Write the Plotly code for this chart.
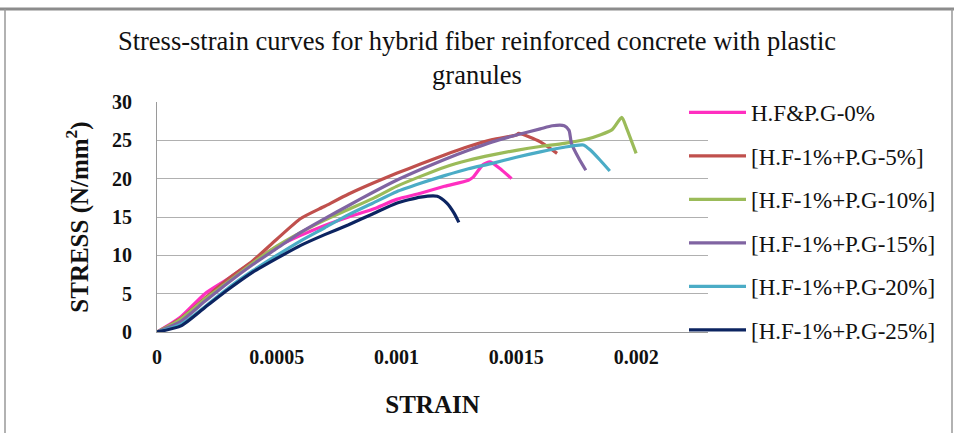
import plotly.graph_objects as go

# ---- data (strain, stress in N/mm^2) ----
names = ["H.F&P.G-0%", "[H.F-1%+P.G-5%]", "[H.F-1%+P.G-10%]",
         "[H.F-1%+P.G-15%]", "[H.F-1%+P.G-20%]", "[H.F-1%+P.G-25%]"]
colors = ["#FF2FC0", "#C0504D", "#9BBB59", "#8064A2", "#4BACC6", "#0C2461"]

strain_pg0 = [0, 0.0001, 0.0002, 0.0003, 0.0004, 0.0005, 0.0006, 0.0007, 0.0008, 0.0009,
              0.001, 0.0011, 0.0012, 0.0013, 0.00132, 0.00136, 0.00139, 0.00144, 0.00148]
stress_pg0 = [0, 2.0, 5.0, 7.0, 9.2, 11.1, 12.6, 13.9, 15.0, 16.0,
              17.3, 18.1, 19.0, 19.8, 20.2, 21.8, 22.2, 21.1, 20.0]

strain_pg5 = [0, 0.0001, 0.0002, 0.0003, 0.0004, 0.0005, 0.0006, 0.0007, 0.0008, 0.0009,
              0.001, 0.0011, 0.0012, 0.0013, 0.0014, 0.0015, 0.00151, 0.0016, 0.00167]
stress_pg5 = [0, 1.8, 4.4, 7.0, 9.3, 12.1, 14.8, 16.4, 18.0, 19.4,
              20.7, 21.9, 23.1, 24.2, 25.1, 25.7, 25.9, 24.8, 23.3]

strain_pg10 = [0, 0.0001, 0.0002, 0.0003, 0.0004, 0.0005, 0.0006, 0.0007, 0.0008, 0.0009,
               0.001, 0.0011, 0.0012, 0.0013, 0.0014, 0.0015, 0.0016, 0.0017, 0.0018,
               0.0019, 0.00194, 0.00196, 0.002]
stress_pg10 = [0, 1.7, 4.3, 6.6, 9.0, 11.2, 13.0, 14.6, 16.0, 17.4,
               19.0, 20.3, 21.5, 22.4, 23.1, 23.7, 24.2, 24.6, 25.2,
               26.4, 28.0, 26.6, 23.3]

strain_pg15 = [0, 0.0001, 0.0002, 0.0003, 0.0004, 0.0005, 0.0006, 0.0007, 0.0008, 0.0009,
               0.001, 0.0011, 0.0012, 0.0013, 0.0014, 0.0015, 0.0016, 0.00165, 0.0017,
               0.00172, 0.00173, 0.00176, 0.00179]
stress_pg15 = [0, 1.4, 4.0, 6.5, 8.8, 10.9, 13.0, 14.8, 16.5, 18.2,
               19.8, 21.2, 22.5, 23.7, 24.8, 25.7, 26.5, 26.9, 26.9,
               26.3, 24.6, 22.7, 21.1]

strain_pg20 = [0, 0.0001, 0.0002, 0.0003, 0.0004, 0.0005, 0.0006, 0.0007, 0.0008, 0.0009,
               0.001, 0.0011, 0.0012, 0.0013, 0.0014, 0.0015, 0.0016, 0.0017, 0.00178,
               0.00181, 0.00185, 0.00189]
stress_pg20 = [0, 1.0, 3.3, 5.8, 8.0, 10.0, 11.9, 13.6, 15.3, 16.8,
               18.3, 19.4, 20.4, 21.3, 22.0, 22.8, 23.5, 24.1, 24.4,
               23.7, 22.4, 21.0]

strain_pg25 = [0, 0.0001, 0.0002, 0.0003, 0.0004, 0.0005, 0.0006, 0.0007, 0.0008, 0.0009,
               0.001, 0.0011, 0.00117, 0.00121, 0.00124, 0.00126]
stress_pg25 = [0, 0.8, 3.2, 5.6, 7.8, 9.6, 11.3, 12.7, 14.0, 15.4,
               16.8, 17.6, 17.7, 16.8, 15.5, 14.3]

x_ticks = [0, 0.0005, 0.001, 0.0015, 0.002]
x_tick_labels = ["0", "0.0005", "0.001", "0.0015", "0.002"]
y_ticks = [0, 5, 10, 15, 20, 25, 30]

series = [(strain_pg0, stress_pg0), (strain_pg5, stress_pg5), (strain_pg10, stress_pg10),
          (strain_pg15, stress_pg15), (strain_pg20, stress_pg20), (strain_pg25, stress_pg25)]

SERIF = "Liberation Serif, Times New Roman, serif"

fig = go.Figure()
for i, ((xs, ys), nm, col) in enumerate(zip(series, names, colors)):
    fig.add_trace(go.Scatter(x=xs, y=ys, mode="lines", name=nm, legendgroup=f"g{i}",
                             line=dict(color=col, width=3.2, shape="spline", smoothing=0.6)))

fig.update_layout(
    width=954, height=433,
    margin=dict(l=157, r=246, t=102, b=101, autoexpand=False),
    paper_bgcolor="white", plot_bgcolor="white",
    title=dict(text="Stress-strain curves for hybrid fiber reinforced concrete with plastic<br>granules",
               x=0.5, xanchor="center", xref="container", y=1 - 50 / 433, yanchor="top",
               font=dict(family=SERIF, size=26.5, color="#111")),
    font=dict(family=SERIF, color="#111"),
    showlegend=True,
    legend=dict(xref="container", yref="container", x=684 / 954, xanchor="left",
                y=1 - 91 / 433, yanchor="top", bgcolor="rgba(255,255,255,0)",
                font=dict(family=SERIF, size=23, color="#111"), maxheight=400,
                itemwidth=57, tracegroupgap=10.6, traceorder="grouped"),
)

fig.update_xaxes(range=[0, 0.0023], tickvals=x_ticks, ticktext=x_tick_labels, automargin=False,
                 showgrid=False, zeroline=False, showline=True, linecolor="#9a9a9a", linewidth=1,
                 ticks="", ticklabelstandoff=7,
                 tickfont=dict(family=SERIF, size=20, color="#111", weight="bold"),
                 title=dict(text="<b>STRAIN</b>", font=dict(family=SERIF, size=25, color="#111"),
                            standoff=28))
fig.update_yaxes(range=[0, 30], tickvals=y_ticks, automargin=False,
                 showgrid=True, gridcolor="#b0b0b0", gridwidth=1, zeroline=False,
                 showline=True, linecolor="#9a9a9a", linewidth=1, ticks="", ticklabelstandoff=20,
                 tickfont=dict(family=SERIF, size=20, color="#111", weight="bold"),
                 title=dict(text="<b>STRESS (N/mm<sup>2</sup>)</b>",
                            font=dict(family=SERIF, size=25, color="#111"), standoff=16))

# outer frame of the picture
fig.add_shape(type="line", xref="paper", yref="paper", x0=-157 / 551, x1=(954 - 157) / 551,
              y0=1 + 93 / 230, y1=1 + 93 / 230, line=dict(color="#8c8c8c", width=3))
fig.add_shape(type="line", xref="paper", yref="paper", x0=-152 / 551, x1=-152 / 551,
              y0=1 + 93 / 230, y1=-101 / 230, line=dict(color="#999999", width=1.5))
fig.add_shape(type="line", xref="paper", yref="paper", x0=(952 - 157) / 551, x1=(952 - 157) / 551,
              y0=1 + 93 / 230, y1=-101 / 230, line=dict(color="#999999", width=1.5))

fig.write_html("out.html", config={"displayModeBar": False},
               post_script="document.body.style.margin='0';")
